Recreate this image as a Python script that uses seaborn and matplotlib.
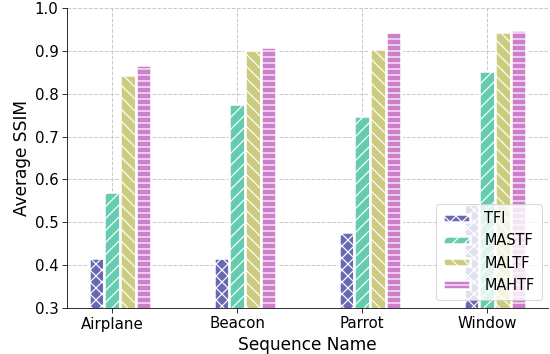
import numpy as np
import matplotlib
matplotlib.use("Agg")
from matplotlib import pyplot as plt
import seaborn as sns

sequences = ["Airplane", "Beacon", "Parrot", "Window"]
methods = ["TFI", "MASTF", "MALTF", "MAHTF"]
tfi = [0.417, 0.417, 0.477, 0.542]
mastf = [0.570, 0.777, 0.748, 0.853]
maltf = [0.844, 0.903, 0.904, 0.944]
mahtf = [0.867, 0.909, 0.943, 0.948]

colors = ["#6868b4", "#66ccb0", "#cccc80", "#cc80cc"]
hatches = ["xx", "//", "\\\\", "--"]

sns.set_style("ticks")
plt.rcParams["hatch.color"] = "white"
plt.rcParams["hatch.linewidth"] = 1.2
plt.rcParams["font.family"] = ["DejaVu Sans"]
plt.rcParams["text.color"] = "black"
plt.rcParams["axes.labelcolor"] = "black"
plt.rcParams["xtick.color"] = "black"
plt.rcParams["ytick.color"] = "black"

fig, ax = plt.subplots(figsize=(550 / 72, 354 / 72), dpi=72)
fig.subplots_adjust(left=67 / 550, right=548 / 550, top=1 - 8 / 354, bottom=1 - 308 / 354)

x = np.arange(len(sequences))
width = 0.125
for i, (name, vals) in enumerate(zip(methods, [tfi, mastf, maltf, mahtf])):
    ax.bar(x + (i - 1) * width, vals, width, label=name, color=colors[i],
           hatch=hatches[i], edgecolor="white", linewidth=2.5, zorder=3)

ax.set_ylim(0.3, 1.0)
ax.set_xticks(x)
ax.set_xticklabels(sequences)
ax.tick_params(labelsize=15, length=5)
ax.set_xlabel("Sequence Name", fontsize=17)
ax.set_ylabel("Average SSIM", fontsize=17)
ax.grid(True, linestyle="--", color="#c8c8c8", linewidth=1, zorder=0)
ax.set_axisbelow(True)
for s in ["left", "bottom"]:
    ax.spines[s].set_color("black")
sns.despine(ax=ax)
ax.legend(loc="lower right", fontsize=14.5, framealpha=0.8,
          handlelength=1.85, handleheight=0.5, handletextpad=1.0, borderpad=0.5,
          bbox_to_anchor=(542 / 550, 1 - 300 / 354), bbox_transform=fig.transFigure,
          borderaxespad=0)

plt.savefig("out.png", dpi=72)
